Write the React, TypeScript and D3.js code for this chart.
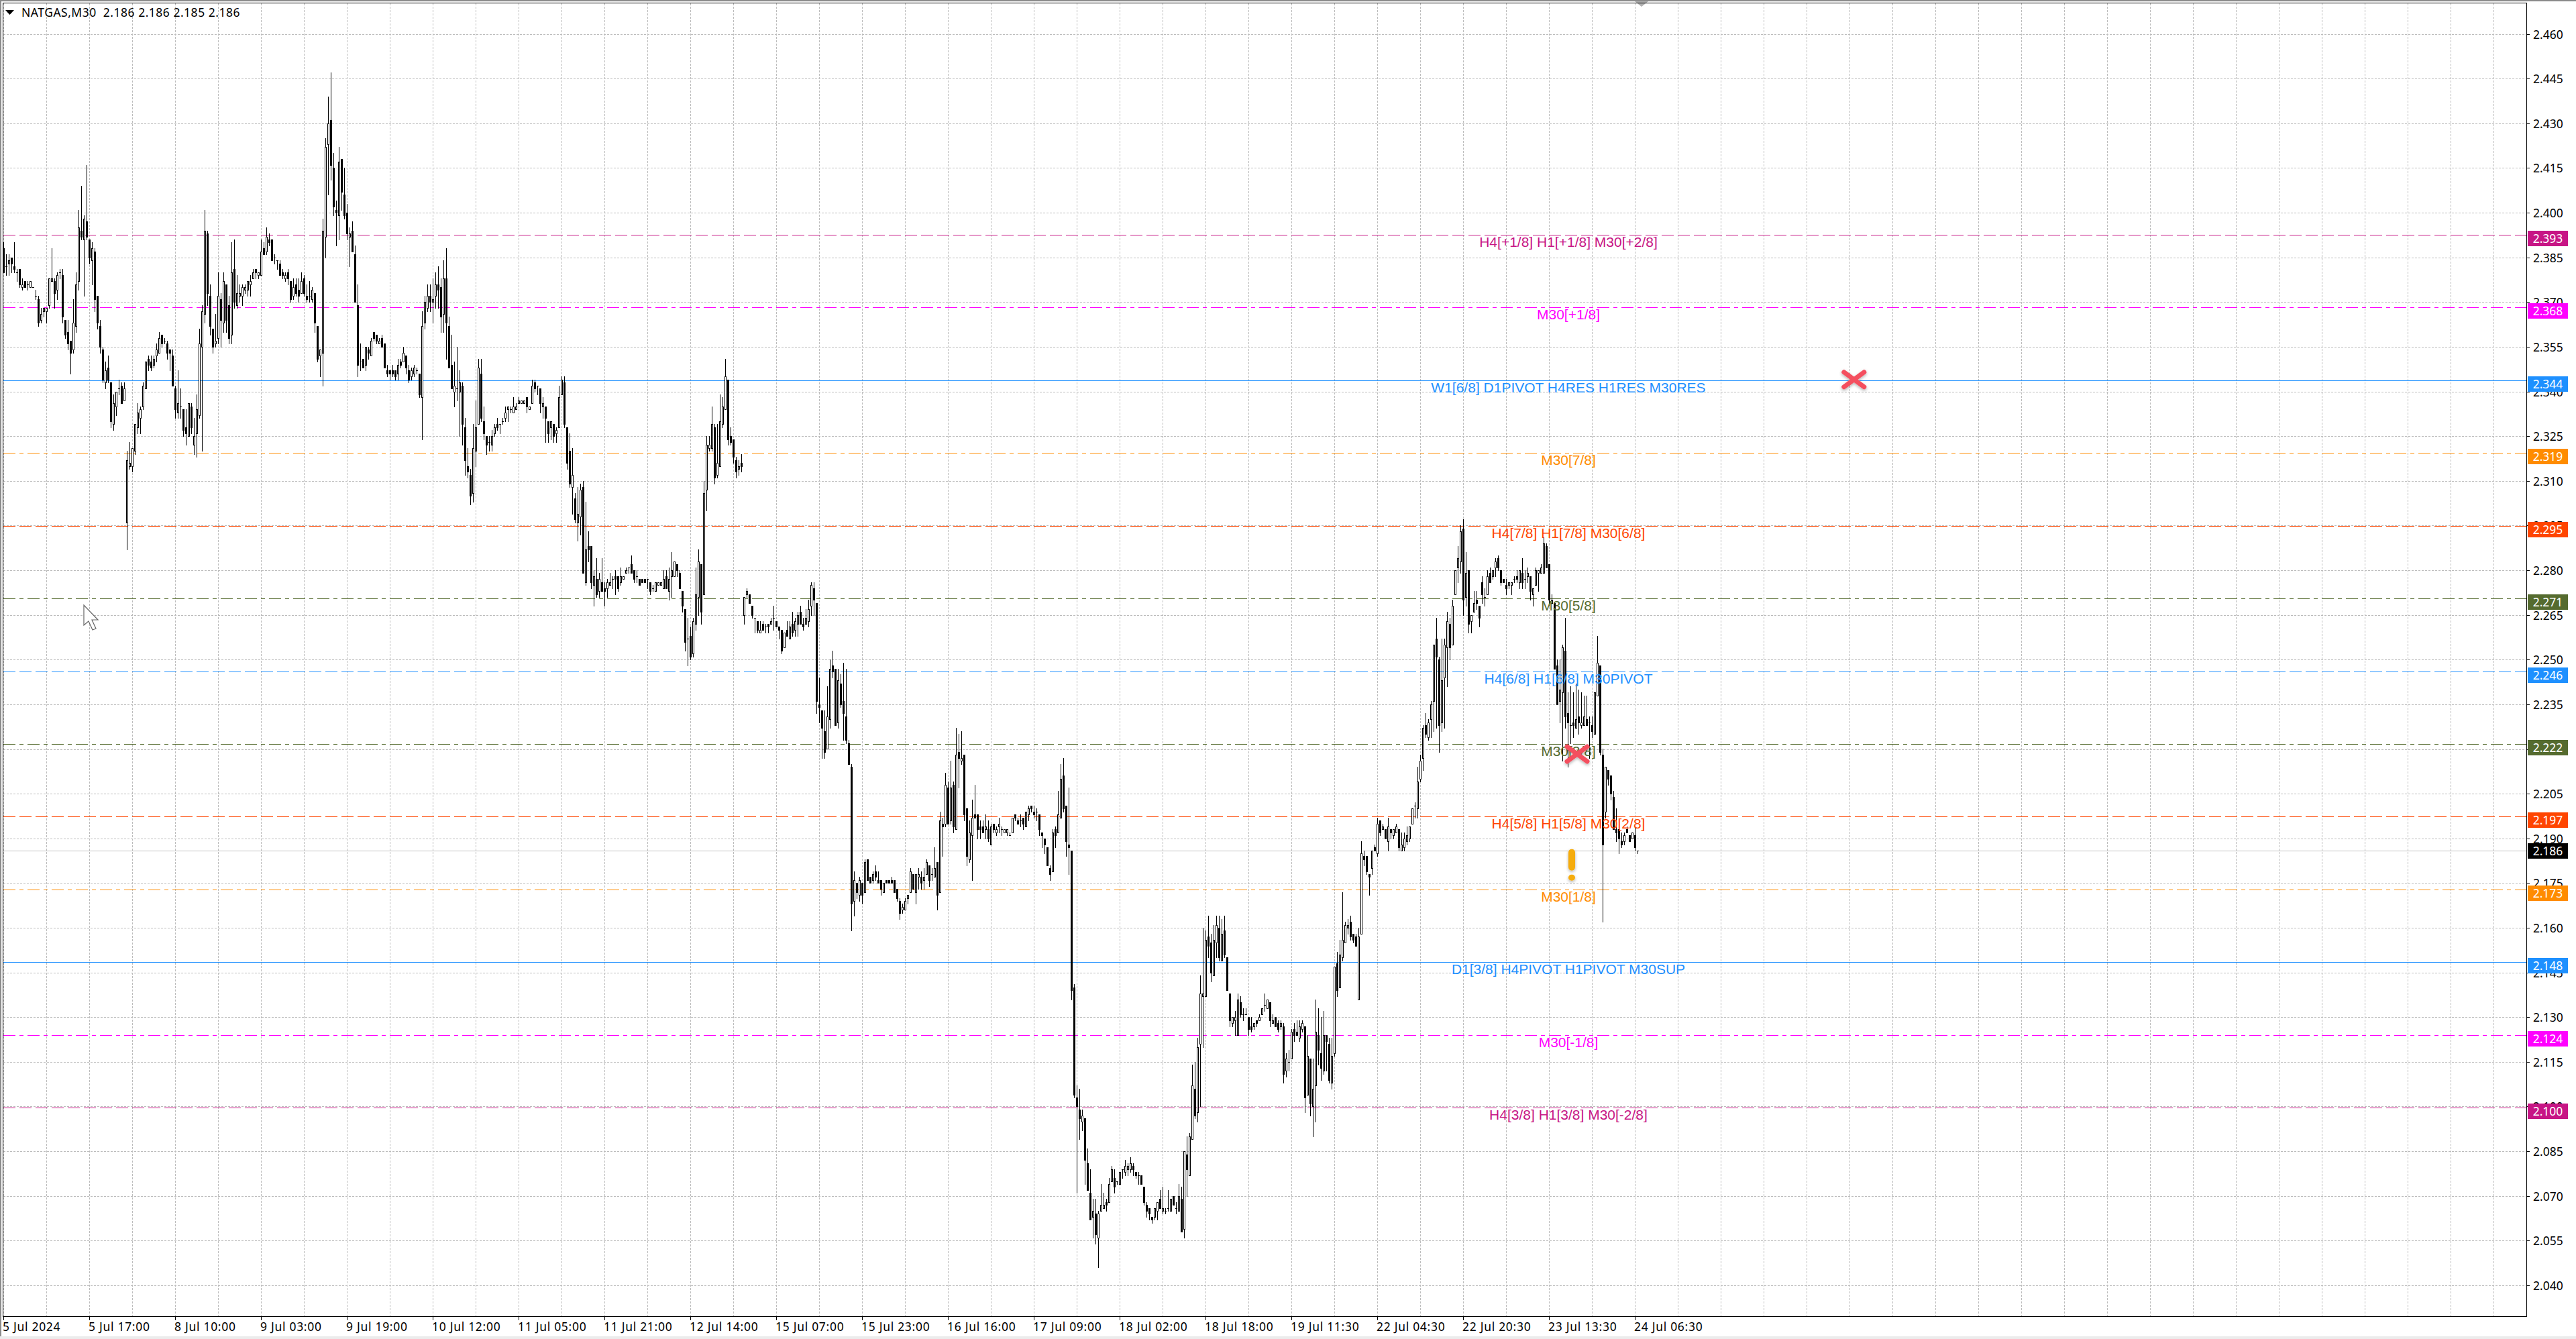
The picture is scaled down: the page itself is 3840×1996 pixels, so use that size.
import React from "react";
import * as d3 from "d3";

// Prices are stored as thousandths above 2.000 (e.g. 388 = 2.388)
const opens = [
388,382,383,385,382,380,381,375,377,376, 375,375,372,371,364,367,367,369,377,377,
374,380,379,364,360,357,354,362,377,394, 391,397,391,384,387,372,362,354,343,348,
343,329,335,341,342,337,296,315,315,320, 328,331,335,341,351,350,349,352,353,359,
357,356,354,352,341,333,335,334,328,325, 335,322,326,332,355,366,393,372,361,356,
358,371,363,376,369,359,381,369,372,372, 374,374,376,378,381,379,379,388,387,391,
391,385,384,383,380,378,380,377,372,376, 374,373,378,372,372,371,373,362,352,353,
392,423,431,415,401,399,418,406,400,392, 394,386,369,350,351,349,354,352,360,359,
356,358,356,347,347,347,347,346,350,350, 352,347,345,346,347,346,338,363,368,372,
370,372,376,375,366,378,362,349,340,341, 340,342,328,315,312,306,320,329,346,330,
325,323,322,326,329,329,330,331,334,334, 333,334,336,336,336,338,334,336,343,342,
341,335,335,330,328,329,326,328,339,343, 328,320,308,304,296,298,308,276,288,288,
275,277,273,276,274,274,275,277,278,278, 276,277,279,281,282,280,278,277,277,277,
277,276,274,273,275,275,274,278,273,278, 278,282,279,273,267,257,258,252,262,271,
282,272,307,321,321,328,312,315,329,334, 344,325,324,317,314,316,265,272,272,268,
264,263,259,262,261,262,262,264,263,261, 260,254,260,257,262,260,262,266,262,262,
263,268,274,269,235,233,226,220,230,248, 247,229,242,236,231,222,214,169,175,171,
175,172,183,177,176,179,176,176,172,176, 176,176,176,173,169,166,166,170,172,178,
172,177,177,176,178,181,178,177,182,172, 195,195,207,196,208,193,219,216,218,200,
183,191,198,198,194,194,193,193,188,195, 192,194,193,192,192,191,192,198,196,196,
197,194,198,201,199,199,198,192,190,187, 180,179,193,192,197,211,201,188,186,140,
103,99,95,96,81,71,63,64,56,65, 66,68,68,75,76,75,74,79,78,79,
79,80,78,77,77,73,67,66,63,63, 65,69,65,65,66,65,70,66,65,69,
59,84,77,89,106,98,121,137,137,157, 155,144,155,160,149,159,150,138,128,129,
124,135,131,131,130,127,127,129,129,131, 134,133,135,128,130,128,127,127,112,115,
116,126,125,123,126,127,104,116,100,107, 124,118,112,124,121,108,118,148,140,150,
155,160,162,158,157,136,158,184,184,178, 180,187,185,196,193,193,189,193,191,192,
193,186,187,189,190,195,201,200,210,217, 228,224,230,236,257,250,229,244,254,262,
255,272,281,283,294,271,280,263,266,270, 268,276,271,272,279,278,281,284,280,277,
275,275,275,277,278,276,279,277,278,278, 272,275,279,279,279,288,282,269,269,248,
236,239,253,232,228,229,227,231,228,228, 230,229,228,225,238,248,218,199,213,211,
204,193,193,189,189,193,191,190,191,186,
];
const highs = [
390,386,386,385,390,381,381,378,377,377, 377,375,374,372,368,368,368,378,388,378,
380,381,381,364,364,357,371,380,401,409, 399,416,391,390,388,372,364,355,350,352,
343,339,340,344,343,343,320,323,321,329, 336,335,343,350,352,352,352,356,360,359,
358,357,354,354,342,347,341,334,334,336, 336,331,339,361,369,401,394,376,361,366,
380,373,380,376,372,390,391,379,376,376, 376,377,379,381,381,380,391,390,395,393,
391,386,384,384,381,380,381,377,378,378, 378,380,379,376,377,375,373,362,354,398,
425,439,447,420,404,422,418,415,403,395, 397,389,376,356,351,355,355,358,360,359,
358,359,356,349,347,349,347,351,351,355, 352,349,348,349,348,346,367,372,376,376,
378,380,382,378,384,388,365,359,350,355, 347,343,331,321,314,329,337,351,351,335,
325,325,327,329,331,329,331,335,335,335, 338,336,338,337,337,338,335,344,344,342,
341,338,335,330,330,329,328,342,345,345, 328,326,321,306,308,309,310,303,293,288,
280,284,279,284,276,277,279,278,280,278, 281,278,281,281,285,280,280,277,277,277,
277,276,275,276,276,276,280,280,281,286, 283,282,280,273,267,264,261,264,281,287,
282,310,325,325,335,329,329,339,338,351, 344,328,324,318,317,319,271,274,272,268,
264,263,263,263,262,262,264,268,263,261, 260,259,263,263,266,264,266,268,264,267,
270,276,276,269,244,233,233,241,250,253, 247,247,245,249,247,223,215,179,175,177,
175,183,183,177,179,181,179,176,175,176, 176,177,176,173,170,168,170,171,180,178,
178,180,179,180,183,181,180,187,182,199, 197,212,209,216,209,227,225,226,218,200,
196,203,208,198,196,196,198,196,195,195, 194,197,194,193,193,192,197,198,197,198,
197,199,201,201,201,200,198,192,190,187, 181,193,194,206,215,217,201,207,186,141,
107,106,99,96,86,79,69,69,65,74, 71,69,76,80,79,75,78,79,82,81,
83,81,78,78,77,73,68,66,63,66, 68,72,73,66,72,69,70,68,74,73,
85,90,91,114,115,123,144,160,159,164, 158,161,164,164,163,164,150,138,130,132,
138,137,133,133,130,130,128,129,131,133, 138,136,135,131,130,129,129,128,118,119,
126,128,129,129,129,127,124,116,116,136, 133,130,132,124,123,123,147,152,156,172,
162,163,164,158,158,160,189,186,184,178, 186,188,197,196,195,193,197,193,193,195,
193,192,192,194,194,200,202,214,218,228, 232,230,236,255,264,251,257,257,266,264,
270,280,288,295,297,286,280,265,273,273, 268,278,274,280,281,280,284,285,280,277,
277,276,276,278,280,280,284,280,281,278, 274,281,280,282,291,289,282,272,269,250,
250,255,264,239,241,239,242,240,239,238, 238,231,231,239,258,248,220,214,213,211,
206,200,193,192,192,194,191,192,194,186,
];
const lows = [
380,379,379,380,380,377,375,374,375,374, 375,375,371,362,363,365,363,368,377,368,
371,378,363,358,354,346,353,360,374,391, 372,391,383,376,367,361,353,343,341,343,
328,327,332,339,336,337,287,314,313,319, 326,326,334,341,347,347,348,350,353,355,
356,351,347,342,331,331,331,325,322,325, 326,319,318,331,320,363,369,359,353,355,
356,355,360,360,356,356,368,368,370,369, 373,372,372,378,378,378,379,386,386,389,
384,383,381,379,378,377,376,370,371,372, 370,373,372,370,370,370,360,350,345,342,
385,406,411,399,389,391,401,398,391,382, 387,370,345,347,348,347,351,352,357,356,
356,355,348,345,344,345,344,344,348,350, 346,343,344,345,346,338,324,361,367,367,
363,368,368,360,360,351,348,341,335,337, 325,322,312,311,302,303,315,329,330,324,
319,320,320,325,327,326,329,330,330,333, 333,334,336,336,336,333,334,336,340,339,
333,331,323,323,324,323,323,328,339,328, 314,308,299,296,290,292,279,275,283,274,
268,271,271,273,268,271,275,274,272,273, 275,277,279,279,279,276,276,275,276,276,
274,272,273,273,275,275,274,274,270,271, 278,278,274,266,253,248,250,251,260,265,
262,272,300,320,320,309,311,315,328,334, 322,322,316,311,312,313,262,271,269,264,
259,259,259,260,259,259,262,260,261,257, 252,254,258,257,258,258,258,262,260,262,
261,265,265,232,229,217,217,220,227,244, 228,227,234,223,222,215,159,164,170,169,
168,172,176,175,175,176,175,171,172,175, 175,175,172,169,163,165,166,168,172,173,
168,173,173,173,178,174,176,177,166,172, 184,194,195,195,192,193,207,215,196,181,
182,176,197,190,190,192,190,189,188,192, 191,192,191,192,191,191,192,196,195,194,
193,194,196,199,197,196,191,187,185,181, 176,179,187,192,197,199,184,178,136,103,
71,89,92,74,72,62,56,54,46,65, 66,65,68,75,71,74,74,76,77,77,
78,77,76,74,74,67,63,62,61,62, 62,66,64,64,65,65,67,64,65,58,
56,70,77,89,96,95,100,120,137,150, 142,144,150,149,149,150,139,127,127,124,
124,130,129,131,124,125,126,127,129,131, 132,133,127,128,127,125,126,108,110,112,
116,122,124,122,125,98,104,97,90,95, 114,109,111,112,108,106,117,137,140,149,
155,158,156,155,154,136,158,181,178,171, 178,186,184,191,193,190,186,190,190,192,
186,186,186,188,189,195,197,197,209,213, 224,223,224,226,227,219,226,227,241,250,
255,272,276,279,265,268,259,259,266,267, 261,269,268,272,276,277,278,280,275,276,
272,274,272,276,276,274,274,274,276,270, 268,275,273,279,279,281,268,269,247,235,
229,216,227,214,222,224,227,225,227,228, 228,217,224,225,238,218,162,197,208,203,
193,189,185,187,188,192,189,190,186,185,
];
const closes = [
380,382,384,383,381,380,376,376,375,376, 377,375,372,363,366,368,368,378,378,373,
379,380,365,359,356,353,363,376,395,392, 398,392,385,388,371,363,355,344,347,344,
330,336,340,341,336,341,317,316,321,329, 333,334,342,350,349,348,351,354,358,356,
357,353,353,342,334,336,335,327,326,336, 328,325,334,356,367,394,373,362,355,357,
372,364,377,364,358,380,370,373,373,375, 375,377,377,380,380,380,387,386,392,390,
384,385,384,379,379,379,378,371,375,373, 372,377,373,371,372,374,363,351,354,394,
422,430,416,402,400,417,407,399,393,393, 387,370,349,350,348,355,353,357,358,357,
357,355,348,346,346,346,345,349,349,353, 348,344,347,348,347,339,362,370,372,370,
371,376,374,365,378,363,348,341,342,341, 343,329,317,313,305,321,328,348,331,326,
322,323,325,328,328,329,330,333,335,334, 335,335,337,337,337,335,335,342,341,342,
336,336,331,326,330,325,327,338,344,329, 316,309,312,297,299,307,279,287,287,276,
278,272,277,273,273,276,276,277,277,274, 278,278,280,281,279,277,278,275,276,276,
277,273,274,276,276,276,277,274,277,280, 283,280,274,268,256,257,251,263,272,283,
266,306,322,322,329,311,316,330,335,345, 324,323,318,313,315,315,271,273,269,265,
264,260,260,260,261,261,263,264,261,260, 253,259,258,261,259,263,265,262,261,264,
267,275,270,236,234,227,219,231,247,246, 228,243,235,232,223,215,168,176,172,176,
171,182,176,175,178,177,175,173,175,175, 175,175,172,170,165,167,169,171,179,173,
178,178,175,177,182,176,178,180,171,196, 194,208,195,207,194,218,217,217,198,184,
192,197,197,193,193,192,194,190,194,193, 193,195,193,193,193,191,197,197,195,196,
195,199,200,200,198,199,193,191,188,181, 178,192,191,198,210,200,189,187,139,104,
100,96,97,82,72,62,65,57,64,67, 67,67,74,79,73,75,78,79,80,80,
81,79,77,77,74,68,65,64,62,66, 68,66,66,65,66,69,67,66,70,58,
85,79,90,107,97,120,138,138,156,154, 145,156,161,150,158,151,139,129,130,130,
136,131,131,131,126,126,128,128,130,133, 134,136,129,129,127,126,128,111,116,115,
125,124,124,127,128,103,117,101,106,125, 119,113,124,122,109,117,147,139,151,156,
161,161,157,156,154,157,185,183,179,177, 186,186,195,192,194,190,194,192,193,194,
187,188,190,191,194,200,201,209,216,227, 225,229,235,255,251,228,243,255,263,254,
268,280,284,293,270,279,262,265,269,269, 264,272,271,278,276,280,283,281,276,276,
274,276,276,277,277,280,276,277,279,273, 274,280,280,281,289,281,270,270,247,235,
240,254,231,229,228,228,230,229,229,231, 228,229,226,239,249,219,188,214,210,205,
193,192,190,188,191,192,189,192,187,186,
];

const timeLabels = ["5 Jul 2024","5 Jul 17:00","8 Jul 10:00","9 Jul 03:00","9 Jul 19:00","10 Jul 12:00","11 Jul 05:00","11 Jul 21:00","12 Jul 14:00","15 Jul 07:00","15 Jul 23:00","16 Jul 16:00","17 Jul 09:00","18 Jul 02:00","18 Jul 18:00","19 Jul 11:30","22 Jul 04:30","22 Jul 20:30","23 Jul 13:30","24 Jul 06:30"];
const priceTicks = d3.range(0, 29).map((k) => 2.46 - k * 0.015);

const levelPrices = [2.392578,2.368164,2.34375,2.319336,2.294922,2.270508,2.246094,2.22168,2.197266,2.172852,2.148438,2.124023,2.099609];
const levelColors = ["#C71585","#FF00FF","#1E90FF","#FF8C00","#FF4500","#556B2F","#1E90FF","#556B2F","#FF4500","#FF8C00","#1E90FF","#FF00FF","#C71585"];
const levelStyles = ["dash","dot","solid","dot","dash","dot","dash","dot","dash","dot","solid","dot","dash"];
const levelTexts = ["H4[+1/8] H1[+1/8] M30[+2/8]","M30[+1/8]","W1[6/8] D1PIVOT H4RES H1RES M30RES","M30[7/8]","H4[7/8] H1[7/8] M30[6/8]","M30[5/8]","H4[6/8] H1[6/8] M30PIVOT","M30[3/8]","H4[5/8] H1[5/8] M30[2/8]","M30[1/8]","D1[3/8] H4PIVOT H1PIVOT M30SUP","M30[-1/8]","H4[3/8] H1[3/8] M30[-2/8]"];
const lastPrice = 2.186;
const header = "NATGAS,M30  2.186 2.186 2.185 2.186";

const crossMarks = [{ bar: 689.7, price: 2.344 }, { bar: 586.5, price: 2.2183 }];
const alertMark = { bar: 584.5, price: 2.1853 };

const W = 3840, H = 1996;
const plotL = 4, plotT = 4, plotR = 3766, plotB = 1962;
const axisFont = "'Noto Sans', sans-serif";
const labelFont = "'Liberation Sans', Arial, sans-serif";
const gridColor = "#bcbcbc";

const xScale = d3.scaleLinear().domain([0, 1]).range([5, 9]);
const yScale = d3.scaleLinear().domain([2.46, 2.04]).range([50.5, 1916]);
const toPrice = (m: number) => 2 + m / 1000;
const yPx = (p: number) => Math.round(yScale(p));
const dashes: Record<string, string | undefined> = { dash: "18 6", dot: "18 6 6 6", solid: undefined };

function Candles() {
  return (
    <g shapeRendering="crispEdges">
      {opens.map((o, i) => {
        const c = closes[i];
        const x = Math.round(xScale(i));
        const yH = yPx(toPrice(Math.max(highs[i], o, c)));
        const yL = yPx(toPrice(Math.min(lows[i], o, c)));
        const yO = yPx(toPrice(o));
        const yC = yPx(toPrice(c));
        const top = Math.min(yO, yC);
        const bot = Math.max(yO, yC);
        return (
          <g key={i}>
            <rect x={x} y={yH} width={1} height={Math.max(1, yL - yH + 1)} fill="#000" />
            {bot === top ? (
              <rect x={x - 1} y={top} width={3} height={1} fill="#000" />
            ) : c > o ? (
              <rect x={x - 0.5} y={top + 0.5} width={2} height={bot - top} fill="#fff" stroke="#000" strokeWidth={1} />
            ) : (
              <rect x={x - 1} y={top} width={3} height={bot - top + 1} fill="#000" />
            )}
          </g>
        );
      })}
    </g>
  );
}

export default function App() {
  const vGrid = d3.range(0, 59).map((k) => 5 + 64 * k);
  return (
    <svg width={W} height={H} viewBox={`0 0 ${W} ${H}`} style={{ position: "absolute", left: 0, top: 0, display: "block", background: "#fff" }}>
      <defs>
        <filter id="sh" x="-40%" y="-40%" width="180%" height="180%">
          <feDropShadow dx="0" dy="2" stdDeviation="2" floodColor="#000" floodOpacity="0.3" />
        </filter>
      </defs>
      <rect x={0} y={0} width={W} height={H} fill="#fff" />
      <rect x={0} y={0} width={W} height={2} fill="#8a8a8a" />
      <rect x={0} y={0} width={2} height={H} fill="#8a8a8a" />
      <rect x={0} y={H - 4} width={W} height={4} fill="#ececec" />
      <path d="M2437,2 L2457,2 L2447,10 Z" fill="#b0b0b0" />

      {/* grid */}
      <g shapeRendering="crispEdges" stroke={gridColor} strokeWidth={1} strokeDasharray="3 2">
        {priceTicks.map((p, i) => (
          <line key={i} x1={plotL + 1} x2={plotR} y1={yPx(p) + 0.5} y2={yPx(p) + 0.5} />
        ))}
        {vGrid.map((x, i) => (
          <line key={i} x1={x + 0.5} x2={x + 0.5} y1={plotT + 1} y2={plotB} />
        ))}
      </g>

      {/* Murrey level lines */}
      <g shapeRendering="crispEdges" fill="none">
        {levelPrices.map((p, i) => (
          <line key={i} x1={5} x2={plotR} y1={yPx(p) + 0.5} y2={yPx(p) + 0.5} stroke={levelColors[i]} strokeWidth={1} strokeDasharray={dashes[levelStyles[i]]} />
        ))}
        <line x1={5} x2={plotR} y1={yPx(lastPrice) + 0.5} y2={yPx(lastPrice) + 0.5} stroke="#c0c0c0" strokeWidth={1} />
      </g>

      <Candles />

      {/* level texts */}
      <g fontFamily={labelFont} fontSize={21} textAnchor="middle">
        {levelPrices.map((p, i) => (
          <text key={i} x={2338} y={yPx(p) + 18} fill={levelColors[i]}>{levelTexts[i]}</text>
        ))}
      </g>

      {/* frame */}
      <g shapeRendering="crispEdges" stroke="#000" strokeWidth={1} fill="none">
        <rect x={plotL + 0.5} y={plotT + 0.5} width={plotR - plotL} height={plotB - plotT} />
      </g>

      {/* price axis */}
      <g fontFamily={axisFont} fontSize={17.5} fill="#000">
        {priceTicks.map((p, i) => (
          <g key={i}>
            <rect x={plotR} y={yPx(p)} width={5} height={1} fill="#000" shapeRendering="crispEdges" />
            <text x={3776} y={yPx(p) + 7}>{d3.format(".3f")(p)}</text>
          </g>
        ))}
      </g>

      {/* time axis */}
      <g fontFamily={axisFont} fontSize={17.5} fill="#000" letterSpacing={0.7}>
        {timeLabels.map((t, i) => {
          const x = Math.round(xScale(i * 32));
          return (
            <g key={i}>
              <rect x={x} y={plotB} width={1} height={6} fill="#000" shapeRendering="crispEdges" />
              <text x={x - 1} y={1984}>{t}</text>
            </g>
          );
        })}
      </g>

      {/* price boxes */}
      <g fontFamily={axisFont} fontSize={17.5} textAnchor="middle">
        {levelPrices.map((p, i) => (
          <g key={i}>
            <rect x={3768} y={yPx(p) - 6} width={60} height={23} fill={levelColors[i]} />
            <text x={3798} y={yPx(p) + 12} fill="#fff">{d3.format(".3f")(p)}</text>
          </g>
        ))}
        <rect x={3768} y={yPx(lastPrice) - 11} width={60} height={23} fill="#000" />
        <text x={3798} y={yPx(lastPrice) + 7} fill="#fff">{d3.format(".3f")(lastPrice)}</text>
      </g>

      {/* header */}
      <path d="M8,15 L21,15 L14.5,22 Z" fill="#000" />
      <text x={32} y={25} fontFamily={axisFont} fontSize={17.5} fill="#000" letterSpacing={0.5} style={{ whiteSpace: "pre" }}>{header}</text>

      {/* markers */}
      <g filter="url(#sh)" stroke="#F4505E" strokeWidth={7} strokeLinecap="round">
        {crossMarks.map((m, i) => {
          const cx = xScale(m.bar), cy = yScale(m.price);
          return (
            <g key={i}>
              <line x1={cx - 15} y1={cy - 11} x2={cx + 15} y2={cy + 11} />
              <line x1={cx - 15} y1={cy + 11} x2={cx + 15} y2={cy - 11} />
            </g>
          );
        })}
      </g>
      <g filter="url(#sh)" fill="#F5AC10">
        <rect x={xScale(alertMark.bar) - 5} y={yScale(alertMark.price) - 5} width={10} height={32} rx={5} />
        <rect x={xScale(alertMark.bar) - 5} y={yScale(alertMark.price) + 33} width={10} height={9} rx={4.5} />
      </g>
      <path d="M125,902 L125,932 L132,926 L138,939 L143,937 L137,924 L146,924 Z" fill="#fff" stroke="#666" strokeWidth={1.2} />
    </svg>
  );
}
